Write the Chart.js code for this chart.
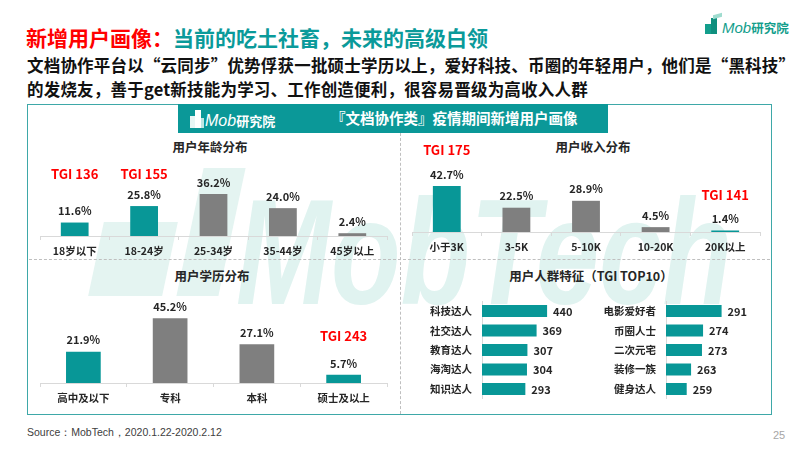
<!DOCTYPE html>
<html><head><meta charset="utf-8">
<script src="https://cdn.jsdelivr.net/npm/chart.js@4.4.1/dist/chart.umd.min.js"></script>
<style>
html,body{margin:0;padding:0;background:#fff;}
#page{position:relative;width:800px;height:450px;overflow:hidden;font-family:"Noto Sans CJK SC","Noto Sans",sans-serif;background:#fff;}
.abs{position:absolute;white-space:nowrap;line-height:1;}
.ptitle{position:absolute;white-space:nowrap;font-size:12.5px;font-weight:bold;color:#262626;line-height:1;transform:translateX(-50%);}
canvas{position:absolute;}
.wm{position:absolute;left:236px;top:177px;font-family:"Liberation Sans",Arial,sans-serif;font-style:italic;font-weight:bold;font-size:150px;line-height:150px;color:#e0f3f0;transform:scaleX(0.76);transform-origin:left top;white-space:nowrap;}
.wmb{position:absolute;background:#e4f4f1;transform:skewX(-12deg);}
</style></head><body>
<div id="page">
  <!-- watermark -->
  <div class="wmb" style="left:190px;top:168px;width:42px;height:128px;"></div>
  <div class="wmb" style="left:96px;top:222px;width:74px;height:74px;"></div>
  <div class="wm">MobTech</div>

  <!-- main box -->
  <div class="abs" style="left:27px;top:104px;width:743px;height:309px;border:1.5px solid #3ea8a8;"></div>
  <div class="abs" style="left:400px;top:133px;width:0;height:281px;border-left:1px dashed #bfbfbf;"></div>
  <div class="abs" style="left:29px;top:259px;width:741px;height:0;border-top:1px dashed #bfbfbf;"></div>

  <!-- banner -->
  <div class="abs" style="left:178px;top:104px;width:430px;height:29px;background:#0b9898;"></div>
  <div class="abs" style="left:190px;top:116px;width:5px;height:12px;background:#e8f6f5;"></div>
  <div class="abs" style="left:195px;top:110px;width:6px;height:18px;background:#ffffff;"></div>
  <div class="abs" style="left:201px;top:118px;width:3px;height:10px;background:#bfe6e3;"></div>
  <div class="abs" style="left:205px;top:111px;color:#fff;font-size:16px;"><span style="font-family:'Liberation Sans',Arial,sans-serif;font-style:italic;">Mob</span><span style="font-size:13px;font-weight:bold;">研究院</span></div>
  <div class="abs" style="left:331px;top:111px;color:#fff;font-size:14.5px;font-weight:bold;">『文档协作类』疫情期间新增用户画像</div>

  <!-- top right logo -->
  <div class="abs" style="left:705px;top:24px;width:6px;height:10px;background:#139e8c;"></div>
  <div class="abs" style="left:711px;top:18px;width:6px;height:16px;background:#0f8f7e;"></div>
  <div class="abs" style="left:713px;top:14px;width:9px;height:4px;background:#9fdccf;transform:skewY(-15deg);"></div>
  <div class="abs" style="left:722px;top:19px;color:#139e8c;font-size:15px;"><span style="font-family:'Liberation Sans',Arial,sans-serif;font-style:italic;">Mob</span><span style="font-size:12.5px;font-weight:bold;">研究院</span></div>

  <!-- titles -->
  <div class="abs" style="left:26px;top:27px;font-size:21px;font-weight:bold;"><span style="color:#ff0000">新增用户画像：</span><span style="color:#0a9a9a">当前的吃土社畜，未来的高级白领</span></div>
  <div class="abs" style="left:27px;top:53px;font-size:16.5px;letter-spacing:0.2px;font-weight:bold;color:#111;line-height:24px;">文档协作平台以“云同步”优势俘获一批硕士学历以上，爱好科技、币圈的年轻用户，他们是“黑科技”<br>的发烧友，善于get新技能为学习、工作创造便利，很容易晋级为高收入人群</div>

  <div class="ptitle" style="left:210px;top:141px;">用户年龄分布</div>
  <div class="ptitle" style="left:593px;top:141px;">用户收入分布</div>
  <div class="ptitle" style="left:212px;top:270px;">用户学历分布</div>
  <div class="ptitle" style="left:591px;top:270px;">用户人群特征（TGI TOP10）</div>

  <canvas id="cAge" width="380" height="120" style="left:20px;top:140px;"></canvas>
  <canvas id="cIncome" width="380" height="120" style="left:400px;top:140px;"></canvas>
  <canvas id="cEdu" width="380" height="145" style="left:20px;top:265px;"></canvas>
  <canvas id="cTgiL" width="190" height="130" style="left:400px;top:285px;"></canvas>
  <canvas id="cTgiR" width="185" height="130" style="left:590px;top:285px;"></canvas>

  <div class="abs" style="left:27px;top:427px;font-family:'Liberation Sans',Arial,sans-serif;font-size:10.5px;color:#404040;">Source：MobTech，2020.1.22-2020.2.12</div>
  <div class="abs" style="left:773px;top:430px;font-family:'Liberation Sans',Arial,sans-serif;font-size:11px;color:#a6a6a6;">25</div>
</div>
<script>
// ---- data ----
const ageCategories = ['18岁以下','18-24岁','25-34岁','35-44岁','45岁以上'];
const ageValues = [11.6, 25.8, 36.2, 24.0, 2.4];
const ageHighlight = [true, true, false, false, false];
const ageTGI = ['TGI 136','TGI 155', null, null, null];

const incomeCategories = ['小于3K','3-5K','5-10K','10-20K','20K以上'];
const incomeValues = [42.7, 22.5, 28.9, 4.5, 1.4];
const incomeHighlight = [true, false, false, false, true];
const incomeTGI = ['TGI 175', null, null, null, 'TGI 141'];

const eduCategories = ['高中及以下','专科','本科','硕士及以上'];
const eduValues = [21.9, 45.2, 27.1, 5.7];
const eduHighlight = [true, false, false, true];
const eduTGI = [null, null, null, 'TGI 243'];

const tgiLeftLabels = ['科技达人','社交达人','教育达人','海淘达人','知识达人'];
const tgiLeftValues = [440, 369, 307, 304, 293];
const tgiRightLabels = ['电影爱好者','币圈人士','二次元宅','装修一族','健身达人'];
const tgiRightValues = [291, 274, 273, 263, 259];

// ---- styles ----
const TEAL = '#089797';
const GRAY = '#7f7f7f';
const FONT = '"Noto Sans CJK SC","Noto Sans",sans-serif';
Chart.defaults.font.family = FONT;

const labelPlugin = {
  id: 'valueLabels',
  afterDatasetsDraw(chart, args, opts) {
    const ctx = chart.ctx;
    const meta = chart.getDatasetMeta(0);
    const data = chart.data.datasets[0].data;
    ctx.save();
    ctx.font = 'bold ' + (opts.size || 11) + 'px ' + FONT;
    ctx.fillStyle = '#262626';
    const labelY = [];
    meta.data.forEach((bar, i) => {
      const v = data[i];
      if (opts.horizontal) {
        ctx.textAlign = 'left'; ctx.textBaseline = 'middle';
        ctx.fillText(String(v), bar.x + 6, bar.y + 0.5);
      } else {
        ctx.textAlign = 'center'; ctx.textBaseline = 'middle';
        const y = bar.y - 11.5;
        labelY.push(y);
        ctx.fillText(v.toFixed(1) + '%', bar.x, y);
      }
    });
    if (opts.tgi) {
      ctx.font = 'bold 13px ' + FONT;
      ctx.fillStyle = '#ff0000';
      ctx.textAlign = 'center'; ctx.textBaseline = 'middle';
      let alignY = Infinity;
      opts.tgi.forEach((t, i) => { if (t) alignY = Math.min(alignY, labelY[i] - opts.tgiGap); });
      opts.tgi.forEach((t, i) => {
        if (!t) return;
        const y = opts.tgiAlign ? alignY : labelY[i] - opts.tgiGap;
        ctx.fillText(t, meta.data[i].x, y);
      });
    }
    ctx.restore();
  }
};

function columnChart(id, labels, values, highlight, tgi, pad, max, tgiGap, tgiAlign) {
  return new Chart(document.getElementById(id), {
    type: 'bar',
    data: { labels: labels, datasets: [{ data: values,
      backgroundColor: highlight.map(h => h ? TEAL : GRAY),
      barPercentage: 0.4, categoryPercentage: 1 }] },
    options: {
      responsive: false, animation: false,
      layout: { padding: pad },
      plugins: { legend: { display: false }, tooltip: { enabled: false },
        valueLabels: { tgi: tgi, tgiGap: tgiGap, tgiAlign: tgiAlign, size: 11 } },
      scales: {
        x: {
          grid: { display: true, drawOnChartArea: false, drawTicks: true, tickLength: 4, color: '#d9d9d9', offset: true },
          border: { display: true, color: '#d9d9d9' },
          ticks: { color: '#262626', font: { size: 10.5, weight: 'bold' }, padding: 5, maxRotation: 0, autoSkip: false },
          afterFit(s) { s.height = 24; }
        },
        y: { display: false, min: 0, max: max }
      }
    },
    plugins: [labelPlugin]
  });
}

columnChart('cAge', ageCategories, ageValues, ageHighlight, ageTGI,
  { left: 20, right: 13, top: 20, bottom: 0 }, 65.5, 21, true);
columnChart('cIncome', incomeCategories, incomeValues, incomeHighlight, incomeTGI,
  { left: 12, right: 20, top: 20, bottom: 4 }, 66.7, 24, false);
columnChart('cEdu', eduCategories, eduValues, eduHighlight, eduTGI,
  { left: 20, right: 13, top: 20, bottom: 3 }, 68.5, 27, false);

function tgiChart(id, labels, values, axisW, min, max, padRight) {
  return new Chart(document.getElementById(id), {
    type: 'bar',
    data: { labels: labels, datasets: [{ data: values, backgroundColor: TEAL,
      barPercentage: 0.62, categoryPercentage: 1 }] },
    options: {
      indexAxis: 'y', responsive: false, animation: false,
      layout: { padding: { left: 0, right: padRight, top: 5, bottom: 4 } },
      plugins: { legend: { display: false }, tooltip: { enabled: false },
        valueLabels: { horizontal: true, size: 11 } },
      scales: {
        x: { display: false, min: min, max: max },
        y: {
          grid: { display: false, drawTicks: false },
          border: { display: true, color: '#d9d9d9' },
          ticks: { color: '#262626', font: { size: 10.5, weight: 'bold' }, padding: 10, autoSkip: false },
          afterFit(s) { s.width = axisW; }
        }
      }
    },
    plugins: [labelPlugin]
  });
}

tgiChart('cTgiL', tgiLeftLabels, tgiLeftValues, 82, 0, 730, 0);
tgiChart('cTgiR', tgiRightLabels, tgiRightValues, 76, 240, 335.4, 5);
</script>
</body></html>
